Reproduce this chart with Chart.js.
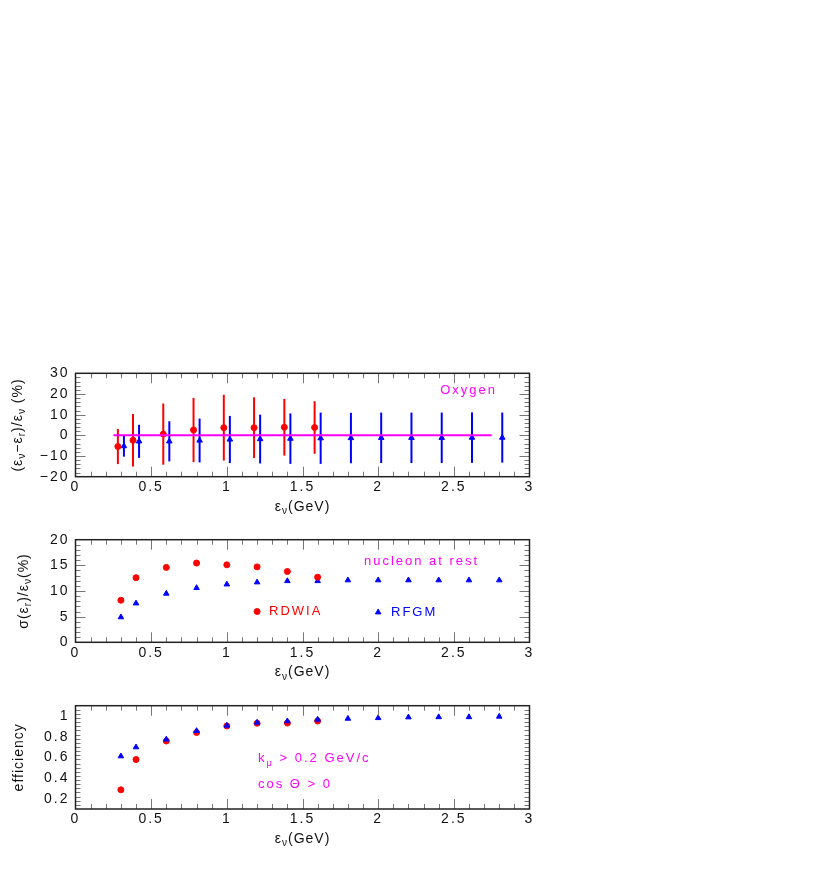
<!DOCTYPE html>
<html>
<head>
<meta charset="utf-8">
<script src="https://cdn.jsdelivr.net/npm/chart.js@4"></script>
<style>
body { margin: 0; background: #fff; width: 817px; height: 872px; position: relative; overflow: hidden; }
canvas { position: absolute; left: 0; }
</style>
</head>
<body>
<canvas id="shift" width="817" height="185" style="top:340px"></canvas>
<canvas id="res" width="817" height="165" style="top:525px"></canvas>
<canvas id="eff" width="817" height="182" style="top:690px"></canvas>
<script>
// energy bins (GeV)
let xRdwia = [0.3, 0.4, 0.6, 0.8, 1.0, 1.2, 1.4, 1.6];
let xRfgm = [0.3, 0.4, 0.6, 0.8, 1.0, 1.2, 1.4, 1.6, 1.8, 2.0, 2.2, 2.4, 2.6, 2.8];
// top panel points are drawn slightly apart so the error bars do not overlap
let xRdwiaShifted = [0.28, 0.38, 0.58, 0.78, 0.98, 1.18, 1.38, 1.58];
let xRfgmShifted = [0.32, 0.42, 0.62, 0.82, 1.02, 1.22, 1.42, 1.62, 1.82, 2.02, 2.22, 2.42, 2.62, 2.82];

// (e_nu - e_r)/e_nu, %
let shiftRdwia = [-5.4, -2.4, 0.6, 2.6, 3.7, 3.7, 3.9, 3.8];
let shiftRdwiaErr = [8.5, 12.7, 14.8, 15.5, 15.9, 14.7, 13.7, 12.7];
let shiftRfgm = [-5.2, -2.9, -2.9, -2.5, -2.0, -1.8, -1.6, -1.4, -1.3, -1.2, -1.2, -1.2, -1.1, -1.1];
let shiftRfgmErr = [5.1, 8.0, 9.7, 10.6, 11.4, 11.8, 12.2, 12.4, 12.2, 12.2, 12.2, 12.2, 12.2, 12.1];
let restLine = [{x: 0.25, y: 0}, {x: 2.75, y: 0}];

// sigma(e_r)/e_nu, %
let resRdwia = [8.2, 12.6, 14.6, 15.45, 15.1, 14.7, 13.8, 12.7];
let resRfgm = [4.9, 7.6, 9.5, 10.6, 11.3, 11.7, 11.95, 11.95, 12.1, 12.1, 12.1, 12.1, 12.1, 12.1];

// efficiency
let effRdwia = [0.286, 0.579, 0.758, 0.84, 0.904, 0.93, 0.932, 0.952];
let effRfgm = [0.611, 0.698, 0.774, 0.856, 0.908, 0.937, 0.95, 0.966, 0.975, 0.981, 0.988, 0.99, 0.99, 0.995];

let modelNames = ['RDWIA', 'RFGM'];

let xTicks = [0, 0.5, 1, 1.5, 2, 2.5, 3];
let shiftTicks = [-20, -10, 0, 10, 20, 30];
let resTicks = [0, 5, 10, 15, 20];
let effTicks = [0.2, 0.4, 0.6, 0.8, 1];

const RED = '#ff0000';
const BLUE = '#0000ff';
const MAGENTA = '#ff00ff';
const FONT = "'Liberation Sans', Arial, sans-serif";

Chart.defaults.font.family = FONT;
Chart.defaults.font.size = 14;
Chart.defaults.color = '#111';

function pts(xs, ys) {
    return xs.map((x, i) => ({x: x, y: ys[i]}));
}

function fmt(v) {
    return String(Math.round(v * 100) / 100).replace('-', '\u2212');
}

// "a_b" -> b as subscript
function richParts(s) {
    let parts = [];
    for (let i = 0; i < s.length; i++) {
        if (s[i] === '_') {
            parts.push({t: s[i + 1], sub: true});
            i++;
        } else if (parts.length && !parts[parts.length - 1].sub) {
            parts[parts.length - 1].t += s[i];
        } else {
            parts.push({t: s[i], sub: false});
        }
    }
    return parts;
}

function drawRich(ctx, s, x, y, size, align) {
    let parts = richParts(s);
    let w = 0;
    parts.forEach(p => {
        ctx.font = (p.sub ? size * 0.72 : size) + 'px ' + FONT;
        p.w = ctx.measureText(p.t).width;
        w += p.w;
    });
    let cx = align === 'center' ? x - w / 2 : x;
    ctx.textAlign = 'left';
    ctx.textBaseline = 'middle';
    parts.forEach(p => {
        ctx.font = (p.sub ? size * 0.72 : size) + 'px ' + FONT;
        ctx.fillText(p.t, cx, p.sub ? y + size * 0.32 : y);
        cx += p.w;
    });
}

const paw = {
    id: 'paw',
    beforeUpdate(chart) {
        chart.ctx.letterSpacing = '2px';
    },
    beforeDraw(chart) {
        chart.ctx.letterSpacing = '2px';
    },
    beforeDatasetsDraw(chart) {
        const ctx = chart.ctx;
        const ys = chart.scales.y;
        ctx.save();
        chart.data.datasets.forEach((ds, di) => {
            if (!ds.errors) return;
            const meta = chart.getDatasetMeta(di);
            ctx.strokeStyle = ds.borderColor;
            ctx.lineWidth = 2;
            meta.data.forEach((el, i) => {
                const v = ds.data[i].y;
                const e = ds.errors[i];
                ctx.beginPath();
                ctx.moveTo(el.x, ys.getPixelForValue(v - e));
                ctx.lineTo(el.x, ys.getPixelForValue(v + e));
                ctx.stroke();
            });
        });
        ctx.restore();
    },
    afterDraw(chart, args, opts) {
        const ctx = chart.ctx;
        const {left, right, top, bottom} = chart.chartArea;
        const xs = chart.scales.x;
        const ys = chart.scales.y;
        ctx.save();
        ctx.letterSpacing = '0px';

        // inward tick marks on all four sides
        ctx.strokeStyle = '#777';
        ctx.lineWidth = 1;
        let n = Math.round((xs.max - xs.min) / opts.xMinor);
        for (let i = 1; i < n; i++) {
            const v = xs.min + i * opts.xMinor;
            const px = Math.round(xs.getPixelForValue(v)) + 0.5;
            const major = Math.abs(v / opts.xMajor - Math.round(v / opts.xMajor)) < 1e-6;
            const len = major ? 10 : 5;
            ctx.beginPath();
            ctx.moveTo(px, bottom); ctx.lineTo(px, bottom - len);
            ctx.moveTo(px, top); ctx.lineTo(px, top + len);
            ctx.stroke();
        }
        n = Math.round((ys.max - ys.min) / opts.yMinor);
        for (let i = 1; i < n; i++) {
            const v = ys.min + i * opts.yMinor;
            const py = Math.round(ys.getPixelForValue(v)) + 0.5;
            const major = Math.abs(v / opts.yMajor - Math.round(v / opts.yMajor)) < 1e-6;
            const len = major ? 10 : 5;
            ctx.beginPath();
            ctx.moveTo(left, py); ctx.lineTo(left + len, py);
            ctx.moveTo(right, py); ctx.lineTo(right - len, py);
            ctx.stroke();
        }

        // frame
        ctx.strokeStyle = '#222';
        ctx.lineWidth = 1.5;
        ctx.strokeRect(left, top, right - left, bottom - top);

        // axis titles
        ctx.fillStyle = '#111';
        ctx.letterSpacing = '1px';
        drawRich(ctx, opts.xTitle, (left + right) / 2, bottom + 30, 14, 'center');
        ctx.save();
        ctx.translate(opts.yTitleX, (top + bottom) / 2);
        ctx.rotate(-Math.PI / 2);
        drawRich(ctx, opts.yTitle, 0, 0, 14, 'center');
        ctx.restore();

        // labels inside the frame
        ctx.letterSpacing = '2px';
        (opts.texts || []).forEach(t => {
            ctx.fillStyle = t.color;
            drawRich(ctx, t.s, xs.getPixelForValue(t.x), ys.getPixelForValue(t.y), 13, 'left');
        });
        ctx.restore();
    }
};

function axisX(h) {
    return {
        type: 'linear', min: 0, max: 3,
        afterBuildTicks: s => { s.ticks = xTicks.map(v => ({value: v})); },
        afterFit: s => { s.height = h; },
        grid: {display: false, drawTicks: false},
        border: {display: false},
        ticks: {padding: 2, maxRotation: 0, autoSkip: false, callback: v => fmt(v)}
    };
}

function axisY(min, max, ticks) {
    return {
        type: 'linear', min: min, max: max,
        afterBuildTicks: s => { s.ticks = ticks.map(v => ({value: v})); },
        afterFit: s => { s.width = 75.5; },
        grid: {display: false, drawTicks: false},
        border: {display: false},
        ticks: {padding: 6, autoSkip: false, callback: v => fmt(v)}
    };
}

function redSet(data, extra) {
    return Object.assign({
        label: modelNames[0], data: data, type: 'scatter',
        pointStyle: 'circle', pointRadius: 3, pointBackgroundColor: RED,
        pointBorderColor: RED, borderColor: RED, backgroundColor: RED
    }, extra || {});
}

function blueSet(data, extra) {
    return Object.assign({
        label: modelNames[1], data: data, type: 'scatter',
        pointStyle: 'triangle', pointRadius: 3.2, pointBackgroundColor: BLUE,
        pointBorderColor: BLUE, borderColor: BLUE, backgroundColor: BLUE
    }, extra || {});
}

function baseOptions(padTop, xH, yMin, yMax, yTicks, paw) {
    return {
        responsive: false,
        animation: false,
        layout: {padding: {top: padTop, right: 287.5, left: 0, bottom: 0}},
        scales: {x: axisX(xH), y: axisY(yMin, yMax, yTicks)},
        plugins: {legend: {display: false}, tooltip: {enabled: false}, paw: paw}
    };
}

new Chart(document.getElementById('shift'), {
    type: 'scatter',
    data: {
        datasets: [
            {label: 'nucleon at rest', type: 'line', data: restLine, borderColor: MAGENTA,
             borderWidth: 2, pointRadius: 0, fill: false},
            redSet(pts(xRdwiaShifted, shiftRdwia), {errors: shiftRdwiaErr}),
            blueSet(pts(xRfgmShifted, shiftRfgm), {errors: shiftRfgmErr})
        ]
    },
    options: baseOptions(33.3, 48.3, -20, 30, shiftTicks, {
        xMinor: 0.1, xMajor: 0.5, yMinor: 2, yMajor: 10,
        xTitle: '\u03b5_\u03bd(GeV)', yTitle: '(\u03b5_\u03bd\u2212\u03b5_r)/\u03b5_\u03bd (%)', yTitleX: 18,
        texts: [{s: 'Oxygen', x: 2.41, y: 21.6, color: MAGENTA}]
    }),
    plugins: [paw]
});

new Chart(document.getElementById('res'), {
    type: 'scatter',
    data: {
        datasets: [
            redSet(pts(xRdwia, resRdwia)),
            blueSet(pts(xRfgm, resRfgm)),
            redSet([{x: 1.2, y: 6.0}]),
            blueSet([{x: 2.0, y: 5.85}])
        ]
    },
    options: baseOptions(14.7, 47.7, 0, 20, resTicks, {
        xMinor: 0.1, xMajor: 0.5, yMinor: 1, yMajor: 5,
        xTitle: '\u03b5_\u03bd(GeV)', yTitle: '\u03c3(\u03b5_r)/\u03b5_\u03bd(%)', yTitleX: 24,
        texts: [
            {s: 'nucleon at rest', x: 1.906, y: 15.85, color: MAGENTA},
            {s: modelNames[0], x: 1.279, y: 6.0, color: RED},
            {s: modelNames[1], x: 2.085, y: 5.85, color: BLUE}
        ]
    }),
    plugins: [paw]
});

new Chart(document.getElementById('eff'), {
    type: 'scatter',
    data: {
        datasets: [
            blueSet(pts(xRfgm, effRfgm)),
            redSet(pts(xRdwia, effRdwia))
        ]
    },
    options: baseOptions(15.7, 63, 0.1, 1.1, effTicks, {
        xMinor: 0.1, xMajor: 0.5, yMinor: 0.04, yMajor: 0.2,
        xTitle: '\u03b5_\u03bd(GeV)', yTitle: 'efficiency', yTitleX: 19,
        texts: [
            {s: 'k_\u03bc > 0.2 GeV/c', x: 1.206, y: 0.585, color: MAGENTA},
            {s: 'cos \u0398 > 0', x: 1.206, y: 0.336, color: MAGENTA}
        ]
    }),
    plugins: [paw]
});
</script>
</body>
</html>
